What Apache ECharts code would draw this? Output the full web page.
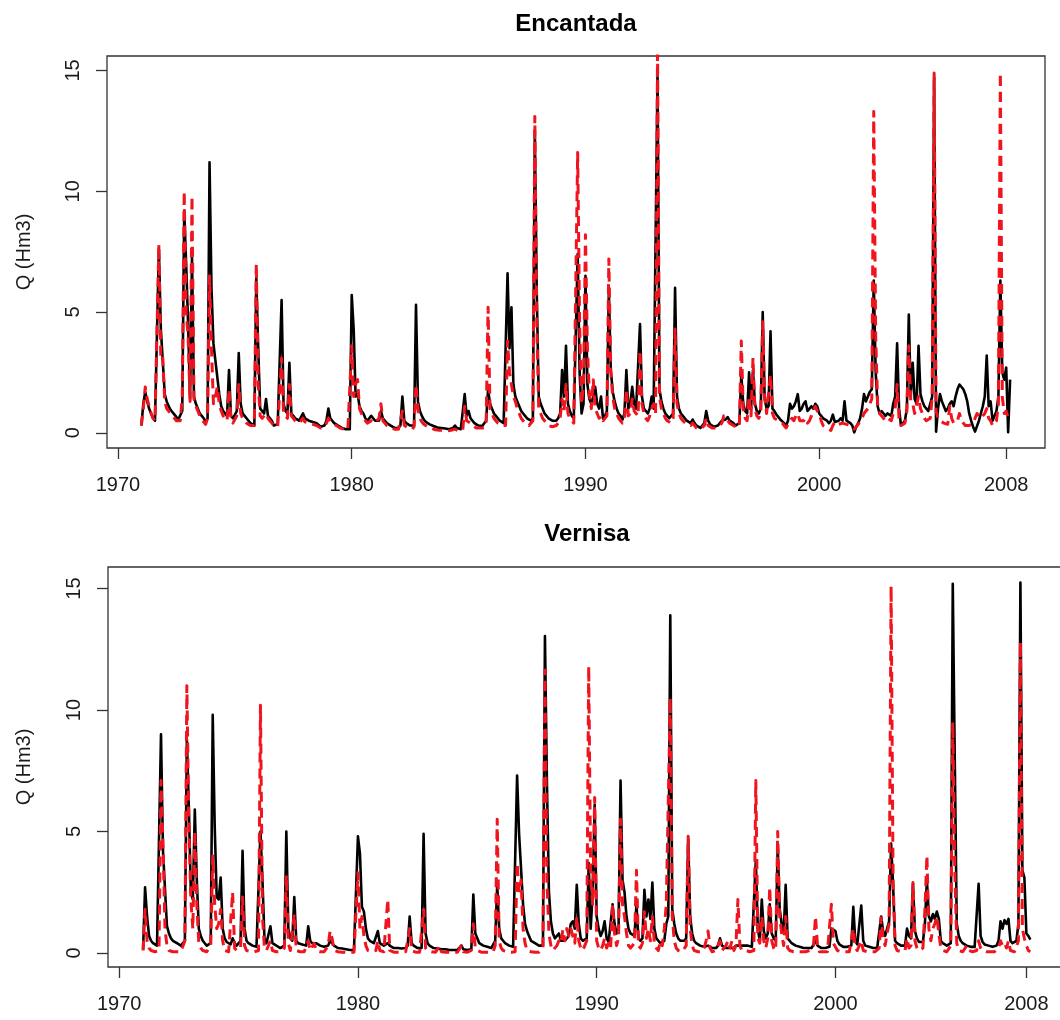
<!DOCTYPE html>
<html>
<head>
<meta charset="utf-8">
<title>Encantada / Vernisa</title>
<script src="https://cdn.jsdelivr.net/npm/echarts@6/dist/echarts.min.js"></script>
<style>
  html, body { margin: 0; padding: 0; background: #fff; overflow: hidden; }
  #chart { width: 1070px; height: 1020px; }
</style>
</head>
<body>
<div id="chart"></div>
<script>
// Monthly discharge series, first value = January 1971
const startYear = 1971;
const xTicks = [1970, 1980, 1990, 2000, 2008];
const yTicks = [0, 5, 10, 15];

// Encantada, observed (black)
const encantadaObs = [
  0.3, 1.2, 1.7, 1.3, 1.0, 0.8, 0.6, 0.5, 0.5, 7.6, 4.3, 4.3,
  1.6, 1.3, 1.1, 0.95, 0.85, 0.75, 0.65, 0.55, 0.5, 0.9, 9.2, 7.0,
  4.5, 1.4, 7.3, 1.5, 1.2, 1.0, 0.8, 0.7, 0.6, 0.45, 0.6, 11.2,
  6.0, 3.7, 3.0, 3.0, 1.6, 1.1, 0.9, 0.8, 0.7, 2.6, 0.7, 0.6,
  0.55, 0.9, 3.3, 1.2, 0.8, 0.7, 0.6, 0.5, 0.4, 0.35, 0.3, 6.4,
  3.5, 1.0, 0.9, 0.8, 1.4, 0.7, 0.6, 0.5, 0.3, 0.3, 0.35, 0.4,
  5.5, 1.2, 0.9, 0.8, 2.9, 0.8, 0.7, 0.6, 0.55, 0.5, 0.5, 0.8,
  0.6, 0.55, 0.5, 0.5, 0.45, 0.5, 0.4, 0.35, 0.25, 0.2, 0.3, 0.5,
  1.0, 0.6, 0.5, 0.4, 0.35, 0.3, 0.25, 0.2, 0.18, 0.15, 0.15, 0.15,
  5.7, 4.3, 1.5, 1.6, 1.1, 0.9, 0.8, 0.6, 0.5, 0.5, 0.7, 0.6,
  0.5, 0.45, 0.5, 0.9, 0.6, 0.5, 0.4, 0.35, 0.3, 0.25, 0.2, 0.2,
  0.2, 0.3, 1.5, 0.5, 0.4, 0.35, 0.3, 0.25, 0.3, 5.3, 1.3, 0.9,
  0.7, 0.55, 0.45, 0.4, 0.35, 0.3, 0.28, 0.25, 0.22, 0.2, 0.2, 0.18,
  0.18, 0.15, 0.15, 0.15, 0.2, 0.3, 0.2, 0.15, 0.15, 0.2, 1.6, 0.7,
  0.9, 0.6, 0.5, 0.4, 0.35, 0.3, 0.3, 0.28, 0.3, 0.5, 1.8, 1.2,
  1.0, 0.8, 0.7, 0.6, 0.5, 0.45, 0.4, 0.4, 6.6, 3.5, 5.2, 2.0,
  1.5, 1.3, 1.1, 0.9, 0.8, 0.7, 0.6, 0.55, 0.5, 0.6, 12.5, 5.8,
  1.5, 1.2, 1.0, 0.8, 0.7, 0.6, 0.55, 0.5, 0.5, 0.5, 0.6, 0.8,
  2.6, 1.5, 3.6, 1.2, 0.9, 0.7, 0.6, 0.6, 7.4, 2.5, 0.8, 1.2,
  6.5, 2.0, 1.4, 1.2, 1.5, 1.9, 1.2, 1.0, 1.5, 0.6, 0.7, 0.9,
  5.9, 2.6, 1.7, 1.3, 1.0, 0.8, 0.7, 0.55, 0.8, 2.6, 1.0, 1.2,
  1.9, 1.2, 1.0, 1.0, 4.5, 1.5, 1.0, 0.9, 0.8, 1.0, 1.5, 1.0,
  1.0, 14.9, 1.8, 1.3, 1.0, 0.8, 0.7, 0.6, 0.6, 0.8, 6.0, 1.5,
  1.0, 0.8, 0.7, 0.6, 0.5, 0.45, 0.4, 0.55, 0.4, 0.3, 0.25, 0.2,
  0.2, 0.4, 0.9, 0.5, 0.35, 0.3, 0.25, 0.3, 0.3, 0.4, 0.5, 0.5,
  0.55, 0.65, 0.5, 0.45, 0.4, 0.3, 0.25, 0.4, 2.4, 1.2, 0.9, 0.8,
  2.5, 1.0, 2.6, 1.2, 0.9, 0.8, 1.0, 5.0, 1.4, 1.0, 1.1, 4.2,
  1.0, 0.9, 0.75, 0.66, 0.55, 0.5, 0.4, 0.3, 0.5, 1.2, 1.0, 1.1,
  1.3, 1.6, 0.9, 1.0, 1.2, 1.3, 0.9, 1.0, 1.1, 1.0, 1.2, 1.1,
  0.8, 0.7, 0.6, 0.55, 0.5, 0.4, 0.5, 0.75, 0.45, 0.5, 0.5, 0.6,
  0.5, 1.3, 0.5, 0.45, 0.4, 0.3, 0.02, 0.25, 0.4, 0.6, 1.0, 1.6,
  1.3, 1.5, 1.7, 1.8, 6.3, 2.5, 1.1, 0.8, 0.9, 0.9, 0.7, 0.8,
  0.8, 0.7, 1.2, 1.5, 3.7, 1.0, 0.3, 0.35, 0.5, 1.0, 4.9, 1.5,
  2.9, 1.4, 1.2, 3.6, 1.6, 1.3, 1.1, 1.0, 0.9, 0.9, 1.5, 14.7,
  0.05, 1.0, 1.6, 1.3, 1.1, 0.9, 1.0, 1.2, 1.3, 1.1, 1.5, 1.8,
  2.0, 2.05, 1.8, 1.6, 1.3, 0.8, 0.5, 0.25, 0.05, 0.1, 0.5, 0.8,
  1.1, 1.5, 3.2, 1.1, 1.3, 0.5, 0.7, 0.9, 1.5, 6.3, 2.5, 2.2,
  2.7, 0.02, 2.2
];

// Encantada, simulated (red dashed)
const encantadaSim = [
  0.3, 1.0, 1.9, 1.4, 1.1, 0.8, 0.6, 0.5, 0.5, 7.8, 3.0, 3.1,
  1.3, 1.0, 0.9, 0.8, 0.7, 0.6, 0.5, 0.45, 0.5, 1.5, 10.0, 5.0,
  4.0, 1.3, 9.8, 1.4, 1.1, 0.9, 0.7, 0.55, 0.45, 0.35, 0.6, 6.5,
  3.5, 1.2, 1.5, 1.9, 1.2, 0.9, 0.7, 0.6, 0.5, 1.8, 0.5, 0.4,
  0.4, 0.7, 2.0, 0.8, 0.6, 0.5, 0.4, 0.35, 0.3, 0.25, 0.3, 7.0,
  2.0, 0.7, 0.6, 0.6, 0.8, 0.6, 0.5, 0.4, 0.3, 0.25, 0.25, 0.3,
  3.1, 0.8, 0.7, 0.6, 2.0, 0.7, 0.6, 0.5, 0.45, 0.4, 0.4, 0.6,
  0.45, 0.4, 0.4, 0.35, 0.35, 0.4, 0.3, 0.25, 0.2, 0.2, 0.25, 0.4,
  0.6, 0.5, 0.4, 0.35, 0.3, 0.25, 0.2, 0.18, 0.15, 0.12, 0.12, 0.15,
  3.6, 1.5, 2.0, 2.2, 1.0, 0.8, 0.6, 0.5, 0.4, 0.4, 0.5, 0.45,
  0.4, 0.4, 0.6, 1.2, 0.5, 0.4, 0.3, 0.25, 0.2, 0.2, 0.15, 0.15,
  0.15, 0.2, 0.9, 0.3, 0.25, 0.2, 0.2, 0.15, 0.25, 2.0, 1.0, 0.6,
  0.45, 0.35, 0.3, 0.25, 0.2, 0.18, 0.15, 0.12, 0.1, 0.1, 0.1, 0.1,
  0.1, 0.08, 0.08, 0.1, 0.1, 0.15, 0.1, 0.08, 0.08, 0.1, 1.1, 0.5,
  0.5, 0.4, 0.3, 0.25, 0.2, 0.2, 0.2, 0.15, 0.2, 0.4, 5.2, 1.0,
  0.8, 0.6, 0.5, 0.4, 0.35, 0.3, 0.3, 0.3, 3.8, 2.5, 2.0, 1.5,
  1.3, 1.0, 0.8, 0.6, 0.5, 0.4, 0.35, 0.3, 0.25, 0.5, 13.1, 4.5,
  1.0, 0.8, 0.6, 0.5, 0.4, 0.3, 0.3, 0.25, 0.25, 0.3, 0.4, 0.6,
  1.4, 0.9, 2.0, 0.8, 0.6, 0.5, 0.4, 0.4, 11.6, 4.5, 1.2, 2.0,
  8.2, 3.5, 1.6, 1.0, 2.2, 1.0, 0.8, 0.6, 0.7, 0.5, 0.5, 0.7,
  7.2, 2.5, 1.5, 1.0, 0.8, 0.6, 0.5, 0.4, 0.5, 1.8, 0.7, 0.8,
  1.4, 0.9, 0.8, 0.7, 3.4, 1.2, 0.8, 0.6, 0.5, 0.7, 1.0, 1.2,
  0.8, 16.0, 1.5, 1.0, 0.8, 0.6, 0.5, 0.45, 0.4, 0.6, 4.3, 1.2,
  0.8, 0.6, 0.5, 0.45, 0.35, 0.3, 0.3, 0.4, 0.3, 0.2, 0.15, 0.15,
  0.15, 0.3, 0.6, 0.3, 0.25, 0.2, 0.2, 0.2, 0.25, 0.3, 0.4, 0.7,
  0.7, 0.5, 0.4, 0.35, 0.3, 0.25, 0.2, 0.3, 3.8, 1.0, 0.6, 0.5,
  1.5, 0.7, 3.1, 1.0, 0.7, 0.6, 0.8, 4.6, 1.5, 0.8, 0.8, 2.4,
  0.8, 0.6, 0.55, 0.5, 0.45, 0.4, 0.3, 0.2, 0.25, 0.5, 0.6, 0.5,
  0.7, 0.8, 0.5, 0.45, 0.5, 0.6, 0.4, 0.5, 0.7, 0.9, 1.1, 0.9,
  0.8, 0.5, 0.3, 0.25, 0.2, 0.15, 0.1, 0.3, 0.45, 0.4, 0.35, 0.4,
  0.4, 0.4, 0.35, 0.3, 0.3, 0.25, 0.15, 0.25, 0.35, 0.4, 0.6, 0.8,
  0.9, 1.0, 1.2, 1.4, 13.3, 4.0, 1.2, 0.8, 0.7, 0.6, 0.5, 0.6,
  0.6, 0.5, 0.8, 1.0, 2.0, 0.6, 0.3, 0.3, 0.4, 0.9, 3.6, 1.3,
  1.2, 0.8, 0.8, 1.5, 1.0, 0.8, 0.6, 0.5, 0.5, 0.6, 1.5, 14.9,
  0.9, 0.6, 0.5, 0.5, 0.4, 0.4, 0.35, 1.1, 0.6, 0.4, 0.35, 0.5,
  0.8, 0.5, 0.4, 0.3, 0.3, 0.3, 0.3, 0.4, 0.6, 0.8, 0.7, 0.6,
  0.7, 0.8, 1.0, 0.6, 0.5, 0.3, 0.3, 0.5, 1.2, 14.9, 1.5, 0.8,
  0.9, 0.6, 0.7
];

// Vernisa, observed (black)
const vernisaObs = [
  0.15, 2.7, 1.5, 0.7, 0.5, 0.4, 0.35, 0.3, 0.3, 9.0, 4.2, 4.2,
  1.1, 0.8, 0.6, 0.5, 0.45, 0.4, 0.35, 0.3, 0.3, 0.5, 8.8, 6.0,
  2.5, 2.2, 5.9, 3.0, 1.0, 0.7, 0.5, 0.4, 0.3, 0.3, 0.4, 9.8,
  5.2, 2.3, 2.2, 3.1, 1.0, 0.6, 0.45, 0.4, 0.35, 0.6, 0.4, 0.3,
  0.3, 0.5, 4.2, 1.0, 0.5, 0.4, 0.35, 0.3, 0.25, 0.25, 0.3, 5.0,
  3.0, 0.6, 0.4, 0.35, 1.1, 0.4, 0.35, 0.3, 0.25, 0.2, 0.2, 0.3,
  5.0, 1.0, 0.6, 0.5, 2.3, 0.5, 0.4, 0.4, 0.35, 0.3, 0.3, 1.1,
  0.5, 0.4, 0.35, 0.4, 0.35, 0.3, 0.3, 0.25, 0.2, 0.3, 0.5, 0.4,
  0.3, 0.25, 0.2, 0.2, 0.18, 0.15, 0.15, 0.15, 0.12, 0.12, 0.12, 0.15,
  4.8, 4.1, 1.9, 1.7, 1.0, 0.6, 0.5, 0.45, 0.4, 0.4, 0.9, 0.4,
  0.35, 0.3, 0.3, 0.4, 0.3, 0.25, 0.2, 0.2, 0.2, 0.18, 0.18, 0.18,
  0.2, 0.3, 1.5, 0.4, 0.3, 0.25, 0.2, 0.2, 0.2, 4.9, 0.8, 0.4,
  0.3, 0.25, 0.2, 0.2, 0.18, 0.15, 0.15, 0.15, 0.15, 0.12, 0.12, 0.12,
  0.12, 0.12, 0.12, 0.15, 0.3, 0.15, 0.12, 0.12, 0.12, 0.15, 2.4, 0.8,
  0.6, 0.4, 0.35, 0.3, 0.25, 0.25, 0.2, 0.2, 0.25, 0.5, 2.8, 1.0,
  0.6, 0.5, 0.4, 0.35, 0.3, 0.3, 0.25, 0.25, 7.3, 4.9, 4.9, 2.0,
  1.2, 0.9, 0.7, 0.5, 0.45, 0.4, 0.35, 0.3, 0.25, 0.3, 13.05, 7.0,
  2.5, 1.3, 0.8, 0.6, 0.6, 0.8, 0.5, 0.45, 0.5, 0.45, 0.7, 1.2,
  1.3, 1.0, 2.8, 1.2, 0.6, 0.5, 0.5, 0.6, 3.7, 1.0, 2.5, 6.1,
  1.5, 1.0, 0.7, 0.9, 1.3, 0.6, 0.45, 0.4, 2.0, 1.2, 0.8, 1.0,
  7.1, 3.0, 2.5, 1.5, 1.0, 0.8, 0.8, 0.7, 2.0, 0.6, 0.5, 0.6,
  2.6, 1.5, 2.2, 1.4, 2.9, 1.0, 0.6, 0.5, 0.4, 0.35, 0.5, 1.2,
  1.5, 13.9, 1.8, 1.2, 0.8, 0.6, 0.5, 0.5, 0.5, 0.6, 4.7, 1.5,
  0.8, 0.5, 0.4, 0.35, 0.3, 0.3, 0.25, 0.25, 0.3, 0.25, 0.2, 0.2,
  0.2, 0.3, 0.6, 0.3, 0.25, 0.2, 0.2, 0.2, 0.2, 0.2, 0.3, 0.35,
  0.3, 0.3, 0.3, 0.3, 0.3, 0.25, 0.25, 0.3, 3.8, 1.0, 0.5, 2.2,
  0.9, 0.6, 0.8, 2.0, 0.8, 0.6, 0.5, 4.4, 1.8, 1.2, 0.8, 2.8,
  0.6, 0.5, 0.4, 0.35, 0.3, 0.3, 0.25, 0.2, 0.2, 0.2, 0.2, 0.2,
  0.2, 0.25, 0.5, 0.3, 0.25, 0.2, 0.2, 0.2, 0.2, 0.25, 1.0, 1.0,
  0.9, 0.5, 0.35, 0.3, 0.25, 0.25, 0.25, 0.25, 0.3, 1.9, 0.5, 0.35,
  0.3, 1.95, 0.5, 0.3, 0.25, 0.25, 0.2, 0.2, 0.2, 0.2, 0.25, 1.5,
  0.9, 0.7, 1.0, 1.3, 4.5, 2.8, 0.5, 0.4, 0.35, 0.3, 0.3, 0.3,
  1.0, 0.7, 0.6, 2.85, 0.9, 0.6, 0.45, 0.4, 0.45, 1.2, 3.0, 1.5,
  1.3, 1.6, 1.4, 1.7, 1.4, 0.5, 0.4, 0.35, 0.3, 0.3, 0.4, 15.2,
  8.0, 1.2, 0.7, 0.5, 0.4, 0.35, 0.3, 0.3, 0.25, 0.25, 0.25, 0.3,
  2.85, 0.7, 0.45, 0.35, 0.3, 0.3, 0.25, 0.25, 0.25, 0.3, 0.5, 1.3,
  1.0, 1.35, 1.2, 1.4, 0.5, 0.4, 0.4, 0.5, 1.2, 15.25, 3.4, 3.1,
  0.8, 0.7, 0.55
];

// Vernisa, simulated (red dashed)
const vernisaSim = [
  0.1, 1.8, 0.5, 0.2, 0.1, 0.05, 0.05, 0.05, 0.1, 7.1, 4.5, 1.0,
  0.3, 0.1, 0.05, 0.05, 0.05, 0.05, 0.05, 0.05, 0.1, 0.5, 11.0, 5.3,
  2.2, 1.0, 5.0, 2.0, 0.4, 0.2, 0.1, 0.05, 0.05, 0.1, 0.3, 4.0,
  2.0, 1.0, 1.2, 1.8, 0.5, 0.1, 0.05, 0.05, 0.05, 2.5, 0.2, 0.1,
  0.05, 0.2, 2.3, 0.3, 0.1, 0.05, 0.05, 0.05, 0.05, 0.05, 0.1, 10.2,
  1.5, 0.2, 0.1, 0.05, 0.5, 0.1, 0.05, 0.05, 0.05, 0.05, 0.05, 0.2,
  3.2, 0.4, 0.1, 0.05, 1.6, 0.1, 0.05, 0.05, 0.05, 0.05, 0.05, 0.5,
  0.1, 0.05, 0.4, 0.1, 0.05, 0.05, 0.05, 0.05, 0.05, 0.3, 0.9, 0.6,
  0.1, 0.05, 0.05, 0.03, 0.03, 0.03, 0.03, 0.03, 0.03, 0.03, 0.03, 0.1,
  3.3, 1.0, 1.5, 0.7, 0.3, 0.1, 0.05, 0.05, 0.05, 0.1, 0.5, 0.1,
  0.05, 0.05, 0.1, 2.2, 0.1, 0.05, 0.03, 0.03, 0.03, 0.03, 0.03, 0.05,
  0.05, 0.1, 1.0, 0.1, 0.05, 0.03, 0.03, 0.03, 0.05, 1.8, 0.2, 0.1,
  0.05, 0.05, 0.03, 0.03, 0.05, 0.3, 0.05, 0.03, 0.03, 0.03, 0.03, 0.03,
  0.03, 0.03, 0.03, 0.05, 0.3, 0.05, 0.03, 0.03, 0.03, 0.1, 1.2, 0.2,
  0.1, 0.05, 0.03, 0.03, 0.03, 0.03, 0.03, 0.03, 0.05, 0.3, 5.5, 0.5,
  0.2, 0.1, 0.05, 0.05, 0.03, 0.03, 0.03, 0.05, 3.7, 2.5, 3.0, 1.0,
  0.4, 0.1, 0.05, 0.05, 0.03, 0.03, 0.03, 0.03, 0.03, 0.2, 11.65, 3.0,
  0.8, 0.3, 0.1, 0.1, 0.3, 0.5, 0.4, 0.95, 0.5, 1.0, 0.7, 1.0,
  1.0, 0.4, 1.5, 0.5, 0.2, 0.1, 0.1, 0.5, 11.8, 3.0, 2.0, 6.4,
  0.5, 0.2, 0.1, 0.3, 0.6, 0.2, 0.4, 0.2, 2.0, 0.8, 0.3, 0.6,
  5.5, 2.0, 1.5, 0.8, 0.3, 0.2, 0.15, 0.4, 3.4, 0.3, 0.2, 0.4,
  1.7, 0.6, 1.0, 0.5, 1.5, 0.4, 0.2, 0.1, 0.5, 0.3, 1.0, 2.0,
  2.0, 10.5, 1.5, 0.5, 0.2, 0.1, 0.1, 0.05, 0.05, 0.3, 4.8, 1.0,
  0.3, 0.1, 0.05, 0.05, 0.05, 0.05, 0.2, 0.5, 0.9, 0.2, 0.05, 0.05,
  0.1, 0.3, 0.5, 0.1, 0.05, 0.3, 0.5, 0.2, 0.5, 0.1, 0.3, 2.2,
  0.3, 0.1, 0.1, 0.1, 0.05, 0.05, 0.05, 0.1, 7.1, 0.6, 0.4, 1.5,
  0.5, 0.2, 0.6, 2.7, 0.5, 0.2, 0.1, 5.0, 1.5, 0.8, 0.3, 1.5,
  0.2, 0.1, 0.05, 0.05, 0.05, 0.05, 0.05, 0.05, 0.05, 0.05, 0.05, 0.1,
  0.05, 0.3, 1.5, 0.3, 0.05, 0.05, 0.05, 0.05, 0.05, 0.1, 2.0, 0.4,
  0.4, 0.1, 0.05, 0.05, 0.05, 0.05, 0.05, 0.05, 0.1, 1.0, 0.2, 0.1,
  0.1, 0.5, 0.1, 0.05, 0.05, 0.05, 0.05, 0.05, 0.05, 0.1, 0.2, 1.45,
  0.6, 0.3, 0.8, 1.2, 15.1, 3.0, 0.3, 0.1, 0.1, 0.05, 0.05, 0.1,
  0.6, 0.2, 0.3, 2.9, 0.5, 0.2, 0.1, 0.05, 0.2, 1.8, 4.0, 1.0,
  0.5, 1.0, 1.2, 1.5, 0.8, 0.2, 0.1, 0.05, 0.05, 0.1, 0.3, 9.5,
  3.5, 0.4, 0.1, 0.05, 0.05, 0.05, 0.3, 0.1, 0.05, 0.05, 0.05, 0.1,
  0.5, 0.2, 0.1, 0.05, 0.05, 0.05, 0.05, 0.05, 0.05, 0.1, 0.2, 0.5,
  0.3, 0.4, 0.2, 0.5, 0.1, 0.05, 0.05, 0.1, 0.5, 12.8, 1.0, 0.6,
  0.3, 0.1, 0.05
];

const FONT = '"Liberation Sans", Arial, Helvetica, sans-serif';
const AXIS_COLOR = '#333';
const TEXT_COLOR = '#1a1a1a';
const OBS_COLOR = '#000000';
const SIM_COLOR = '#f0141e';

// [decimal year, value] pairs for a monthly series
function monthly(values) {
  return values.map((v, i) => [startYear + i / 12, v]);
}

function xAxisFor(gridIndex) {
  return {
    type: 'value', gridIndex,
    min: 1969.53, max: 2009.66,
    axisLine: { show: false, onZero: false },
    splitLine: { show: false },
    axisTick: {
      show: true, inside: false, length: 11, customValues: xTicks,
      lineStyle: { color: AXIS_COLOR, width: 1.3 }
    },
    axisLabel: {
      customValues: xTicks, formatter: v => String(v),
      fontSize: 20, fontFamily: FONT, color: TEXT_COLOR, margin: 27
    }
  };
}

function yAxisFor(gridIndex, min, max) {
  return {
    type: 'value', gridIndex, min, max,
    axisLine: { show: false, onZero: false },
    splitLine: { show: false },
    axisTick: {
      show: true, inside: false, length: 11, customValues: yTicks,
      lineStyle: { color: AXIS_COLOR, width: 1.3 }
    },
    axisLabel: {
      customValues: yTicks, formatter: v => String(v), rotate: 90,
      fontSize: 20, fontFamily: FONT, color: TEXT_COLOR, margin: 24
    }
  };
}

function obsSeries(idx, values) {
  return {
    type: 'line', xAxisIndex: idx, yAxisIndex: idx,
    data: monthly(values), showSymbol: false, symbol: 'none',
    clip: true, z: 2,
    lineStyle: { color: OBS_COLOR, width: 2.6, join: 'round' }
  };
}

function simSeries(idx, values) {
  return {
    type: 'line', xAxisIndex: idx, yAxisIndex: idx,
    data: monthly(values), showSymbol: false, symbol: 'none',
    clip: true, z: 3,
    lineStyle: { color: SIM_COLOR, width: 3, type: [10, 6], join: 'round' }
  };
}

function label(text, x, y, opts) {
  return Object.assign({
    type: 'text', x, y, silent: true,
    style: {
      text, fontSize: 20, fontFamily: FONT, fill: TEXT_COLOR,
      align: 'center', verticalAlign: 'middle',
      textAlign: 'center', textVerticalAlign: 'middle'
    }
  }, opts || {});
}

function title(text, x, y) {
  const t = label(text, x, y);
  t.style.fontSize = 24;
  t.style.fontWeight = 'bold';
  t.style.fill = '#000';
  return t;
}

const chart = echarts.init(document.getElementById('chart'), null, { renderer: 'canvas' });

chart.setOption({
  animation: false,
  backgroundColor: '#ffffff',
  grid: [
    { left: 107, top: 56, width: 938, height: 392, show: true,
      borderColor: AXIS_COLOR, borderWidth: 1.3, backgroundColor: 'transparent' },
    { left: 108, top: 567, width: 958, height: 400, show: true,
      borderColor: AXIS_COLOR, borderWidth: 1.3, backgroundColor: 'transparent' }
  ],
  xAxis: [xAxisFor(0), xAxisFor(1)],
  yAxis: [yAxisFor(0, -0.63, 15.6), yAxisFor(1, -0.58, 15.89)],
  series: [
    obsSeries(0, encantadaObs),
    simSeries(0, encantadaSim),
    obsSeries(1, vernisaObs),
    simSeries(1, vernisaSim)
  ],
  graphic: [
    title('Encantada', 576, 24),
    title('Vernisa', 587, 534),
    label('Q (Hm3)', 24, 252, { rotation: Math.PI / 2 }),
    label('Q (Hm3)', 24, 767, { rotation: Math.PI / 2 })
  ]
});
</script>
</body>
</html>
